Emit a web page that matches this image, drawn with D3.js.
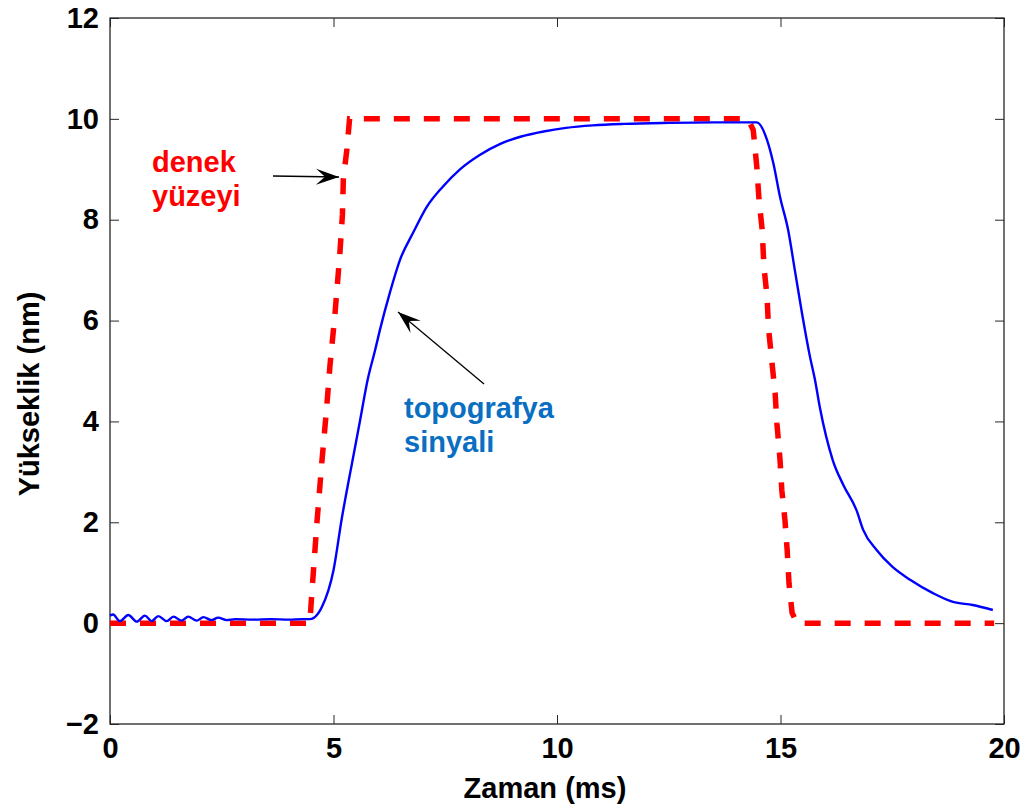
<!DOCTYPE html>
<html>
<head>
<meta charset="utf-8">
<script src="https://cdn.jsdelivr.net/npm/d3@7"></script>
<style>
  body { margin: 0; background: #fff; }
  text { font-family: "Liberation Sans", Arial, sans-serif; font-weight: bold; }
</style>
</head>
<body>
<div id="chart"></div>
<script>
// denek yüzeyi (red dashed)
const surfX = [0, 4.47, 4.52, 4.63, 4.74, 4.85, 4.92, 5.03, 5.14, 5.2, 5.22, 5.3, 5.36, 14.27, 14.39, 14.47, 14.52, 14.59, 14.63, 14.7, 14.73, 14.81, 14.88, 14.92, 14.99, 15.03, 15.1, 15.15, 15.19, 15.26, 15.37, 19.78];
const surfY = [0, 0, 0.65, 2.0, 3.2, 4.3, 5.1, 6.1, 7.3, 8.1, 8.8, 9.4, 10, 10, 9.78, 9.05, 8.39, 7.8, 7.06, 6.47, 5.87, 5.16, 4.56, 3.96, 3.23, 2.63, 2.04, 1.44, 0.79, 0.2, 0, 0];

// topografya sinyali (blue)
const sigX = [0, 0.07, 0.22, 0.41, 0.6, 0.78, 0.93, 1.08, 1.27, 1.42, 1.6, 1.75, 1.94, 2.09, 2.27, 2.42, 2.61, 2.8, 3.2, 3.6, 4.0, 4.3, 4.47, 4.55, 4.74, 5.0, 5.19, 5.33, 5.41, 5.59, 5.77, 5.93, 6.04, 6.26, 6.49, 6.78, 7.09, 7.45, 7.83, 8.28, 8.72, 9.2, 9.7, 10.2, 10.8, 11.5, 12.5, 13.5, 14.3, 14.47, 14.7, 14.84, 14.99, 15.17, 15.33, 15.48, 15.66, 15.77, 15.88, 16.17, 16.4, 16.7, 16.85, 17.15, 17.5, 17.9, 18.4, 18.86, 19.3, 19.75];
const sigY = [0.15, 0.17, 0.04, 0.16, 0.03, 0.15, 0.04, 0.14, 0.04, 0.13, 0.05, 0.13, 0.05, 0.12, 0.06, 0.11, 0.06, 0.08, 0.07, 0.08, 0.07, 0.08, 0.08, 0.1, 0.32, 1.05, 2.1, 2.78, 3.15, 4.0, 4.85, 5.41, 5.82, 6.55, 7.21, 7.74, 8.26, 8.66, 9.0, 9.29, 9.5, 9.65, 9.75, 9.82, 9.87, 9.9, 9.92, 9.93, 9.93, 9.93, 9.58, 9.12, 8.45, 7.8, 6.95, 6.15, 5.28, 4.83, 4.28, 3.23, 2.75, 2.24, 1.85, 1.45, 1.12, 0.86, 0.6, 0.42, 0.36, 0.26];

const xTicks = [0, 5, 10, 15, 20];
const yTicks = [-2, 0, 2, 4, 6, 8, 10, 12];

const W = 1026, H = 809;
const m = {left: 110, right: 22, top: 18, bottom: 85};

const svg = d3.select('#chart').append('svg')
    .attr('width', W)
    .attr('height', H);

const x = d3.scaleLinear().domain([0, 20]).range([m.left, W - m.right]);
const y = d3.scaleLinear().domain([-2, 12]).range([H - m.bottom, m.top]);

// arrowhead
svg.append('defs').append('marker')
    .attr('id', 'head')
    .attr('markerUnits', 'userSpaceOnUse')
    .attr('viewBox', '-24 -10 26 20')
    .attr('markerWidth', 26).attr('markerHeight', 20)
    .attr('refX', 0).attr('refY', 0)
    .attr('orient', 'auto')
  .append('path')
    .attr('d', 'M0,0 L-23,-8 L-14,0 L-23,8 Z')
    .attr('fill', '#000');

// axes: ticks inward on all four sides
const tickColor = '#262626';
const styleAxis = g => {
  g.select('.domain').remove();
  g.selectAll('.tick line').attr('stroke', tickColor);
  g.selectAll('.tick text').attr('fill', '#000').style('font-size', '29px');
};

svg.append('g')
    .attr('transform', `translate(0,${y(-2)})`)
    .call(d3.axisBottom(x).tickValues(xTicks).tickSize(-9).tickPadding(13))
    .call(styleAxis);

svg.append('g')
    .attr('transform', `translate(0,${y(12)})`)
    .call(d3.axisTop(x).tickValues(xTicks).tickSize(-9).tickFormat(''))
    .call(styleAxis);

svg.append('g')
    .attr('transform', `translate(${x(0)},0)`)
    .call(d3.axisLeft(y).tickValues(yTicks).tickSize(-9).tickPadding(11))
    .call(styleAxis);

svg.append('g')
    .attr('transform', `translate(${x(20)},0)`)
    .call(d3.axisRight(y).tickValues(yTicks).tickSize(-9).tickFormat(''))
    .call(styleAxis);

svg.append('rect')
    .attr('x', x(0)).attr('y', y(12))
    .attr('width', x(20) - x(0)).attr('height', y(-2) - y(12))
    .attr('fill', 'none')
    .attr('stroke', tickColor)
    .attr('stroke-width', 1.3);

// lines
const surf = surfX.map((d, i) => [d, surfY[i]]);
const sig = sigX.map((d, i) => [d, sigY[i]]);

svg.append('path')
    .datum(surf)
    .attr('d', d3.line().x(d => x(d[0])).y(d => y(d[1])))
    .attr('fill', 'none')
    .attr('stroke', '#ff0000')
    .attr('stroke-width', 5.5)
    .attr('stroke-dasharray', '16,14');

svg.append('path')
    .datum(sig)
    .attr('d', d3.line().curve(d3.curveMonotoneX).x(d => x(d[0])).y(d => y(d[1])))
    .attr('fill', 'none')
    .attr('stroke', '#0000ff')
    .attr('stroke-width', 2.4);

// annotations
svg.append('line')
    .attr('x1', 273).attr('y1', 176).attr('x2', 339).attr('y2', 177)
    .attr('stroke', '#000').attr('stroke-width', 1.3)
    .attr('marker-end', 'url(#head)');

svg.append('line')
    .attr('x1', 484).attr('y1', 384).attr('x2', 398).attr('y2', 312)
    .attr('stroke', '#000').attr('stroke-width', 1.3)
    .attr('marker-end', 'url(#head)');

const note = (lines, px, py, color) => {
  const t = svg.append('text')
      .attr('x', px).attr('y', py)
      .attr('fill', color)
      .style('font-size', '29px');
  lines.forEach((s, i) => t.append('tspan').attr('x', px).attr('dy', i ? 34 : 0).text(s));
};
note(['denek', 'yüzeyi'], 152, 172, '#ff0000');
note(['topografya', 'sinyali'], 404, 418, '#0a6fc2');

// axis titles
svg.append('text')
    .attr('x', 545).attr('y', 798)
    .attr('text-anchor', 'middle')
    .style('font-size', '29px')
    .text('Zaman (ms)');

svg.append('text')
    .attr('transform', 'translate(39,394) rotate(-90)')
    .attr('text-anchor', 'middle')
    .style('font-size', '29px')
    .text('Yükseklik (nm)');
</script>
</body>
</html>
